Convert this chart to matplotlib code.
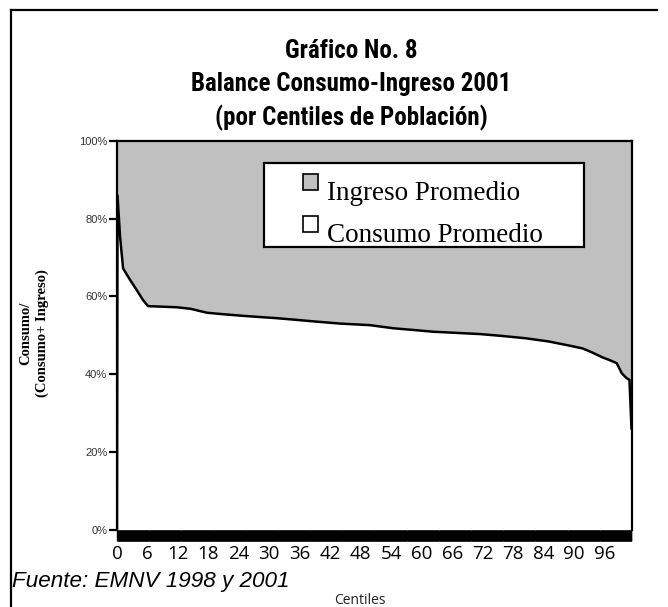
import matplotlib.pyplot as plt
from matplotlib import font_manager
from matplotlib.lines import Line2D
from matplotlib.patches import Rectangle


# Consumo / (Consumo + Ingreso) by centile
centiles = [0, 0.1, 0.6, 1.2, 2.6, 3.9, 5.1, 6.1, 8.0, 11.8, 14.5, 17.7, 21.0,
            24.8, 28.0, 31.4, 35.0, 39.3, 44.0, 49.8, 54.4, 58.0, 62.3, 67.0,
            71.5, 76.0, 80.6, 85.0, 89.2, 91.7, 93.5, 95.6, 97.0, 98.4, 99.4,
            100.3, 100.9, 101.3]
consumo_share = [0, 86.0, 75.4, 67.2, 64.2, 61.6, 59.1, 57.5, 57.4, 57.2, 56.8,
                 55.8, 55.4, 55.0, 54.7, 54.4, 54.0, 53.5, 53.0, 52.6, 51.8,
                 51.4, 50.9, 50.6, 50.3, 49.8, 49.2, 48.4, 47.3, 46.6, 45.6,
                 44.3, 43.6, 42.8, 40.2, 39.0, 38.5, 26.0]

x_ticks = list(range(0, 97, 6))
y_ticks = [0, 20, 40, 60, 80, 100]
y_tick_labels = ["0%", "20%", "40%", "60%", "80%", "100%"]

legend_labels = ["Ingreso Promedio", "Consumo Promedio"]
GRAY = "#C0C0C0"

# pick a narrow bold face for the title if one is around
names = {f.name for f in font_manager.fontManager.ttflist}
print(sorted(n for n in names if "Narrow" in n or "Condensed" in n))
title_family = ["DejaVu Sans"]
for cand in ["Liberation Sans Narrow", "DejaVu Sans Condensed", "Roboto Condensed"]:
    if cand in names:
        title_family = [cand]
        break


fig = plt.figure(figsize=(6.68, 6.07), dpi=100)
ax = fig.add_axes([117 / 668, 1 - 529.5 / 607, 515 / 668, 388.5 / 607])

ax.fill_between(centiles, consumo_share, 100, color=GRAY, lw=0)
ax.fill_between(centiles, 0, consumo_share, color="white", lw=0)
ax.plot(centiles, consumo_share, color="black", lw=1.8)

ax.set_xlim(0, 101.4)
ax.set_ylim(0, 100)

for side in ["left", "right", "top"]:
    ax.spines[side].set_linewidth(1.6)
ax.spines["bottom"].set_visible(False)

ax.set_yticks(y_ticks)
ax.set_yticklabels(y_tick_labels, fontsize=8, color="#333333", family="Liberation Sans")
ax.tick_params(axis="y", direction="out", length=6, width=1.6, pad=1)

# the dense category ticks form a solid bar under the plot
ax.set_xticks(x_ticks)
ax.set_xticklabels([str(t) for t in x_ticks], fontsize=13.5, family="Open Sans")
ax.set_xticks([i / 10 for i in range(0, 1014)], minor=True)
ax.tick_params(axis="x", which="both", direction="out", length=8, width=1.0, pad=3)

# legend box, drawn by hand to keep the Excel look
ax.add_patch(Rectangle((0.2854, 0.7272), 0.6214, 0.2162, transform=ax.transAxes,
                       facecolor="white", edgecolor="black", lw=1.6, zorder=5))
handle_colors = [GRAY, "white"]
handle_y = [0.873, 0.766]
text_y = [0.848, 0.740]
for label, col, hy, ty in zip(legend_labels, handle_colors, handle_y, text_y):
    ax.add_patch(Rectangle((0.3602, hy), 0.031, 0.041, transform=ax.transAxes,
                           facecolor=col, edgecolor="black", lw=1.2, zorder=6))
    ax.text(0.4076, ty, label, transform=ax.transAxes, fontsize=19.5,
            family="Liberation Serif", va="baseline", ha="left", zorder=6)

title_lines = ["Gráfico No. 8", "Balance Consumo-Ingreso 2001",
               "(por Centiles de Población)"]
for i, line in enumerate(title_lines):
    fig.text(351 / 668, 1 - (51 + 33.5 * i) / 607, line, ha="center", va="center",
             fontsize=18, fontweight="bold", fontstretch="condensed",
             family=title_family)

fig.text(26 / 668, 1 - 333 / 607, "Consumo/", rotation=90, ha="center", va="center",
         fontsize=10.5, fontweight="bold", family="Liberation Serif")
fig.text(42 / 668, 1 - 333 / 607, "(Consumo+ Ingreso)", rotation=90, ha="center",
         va="center", fontsize=10.5, fontweight="bold", family="Liberation Serif")

fig.text(12 / 668, 1 - 582 / 607, "Fuente: EMNV 1998 y 2001", ha="left", va="center",
         fontsize=16.2, style="italic", family="Liberation Sans")
fig.text(360 / 668, 1 - 600 / 607, "Centiles", ha="center", va="center",
         fontsize=10, family="Open Sans", color="#222222")

# page frame around the chart
fig.add_artist(Line2D([11 / 668, 11 / 668], [0, 1 - 10 / 607], color="black", lw=1.6))
fig.add_artist(Line2D([11 / 668, 657 / 668], [1 - 10 / 607, 1 - 10 / 607],
                      color="black", lw=1.6))

fig.savefig("out.png", dpi=100)
